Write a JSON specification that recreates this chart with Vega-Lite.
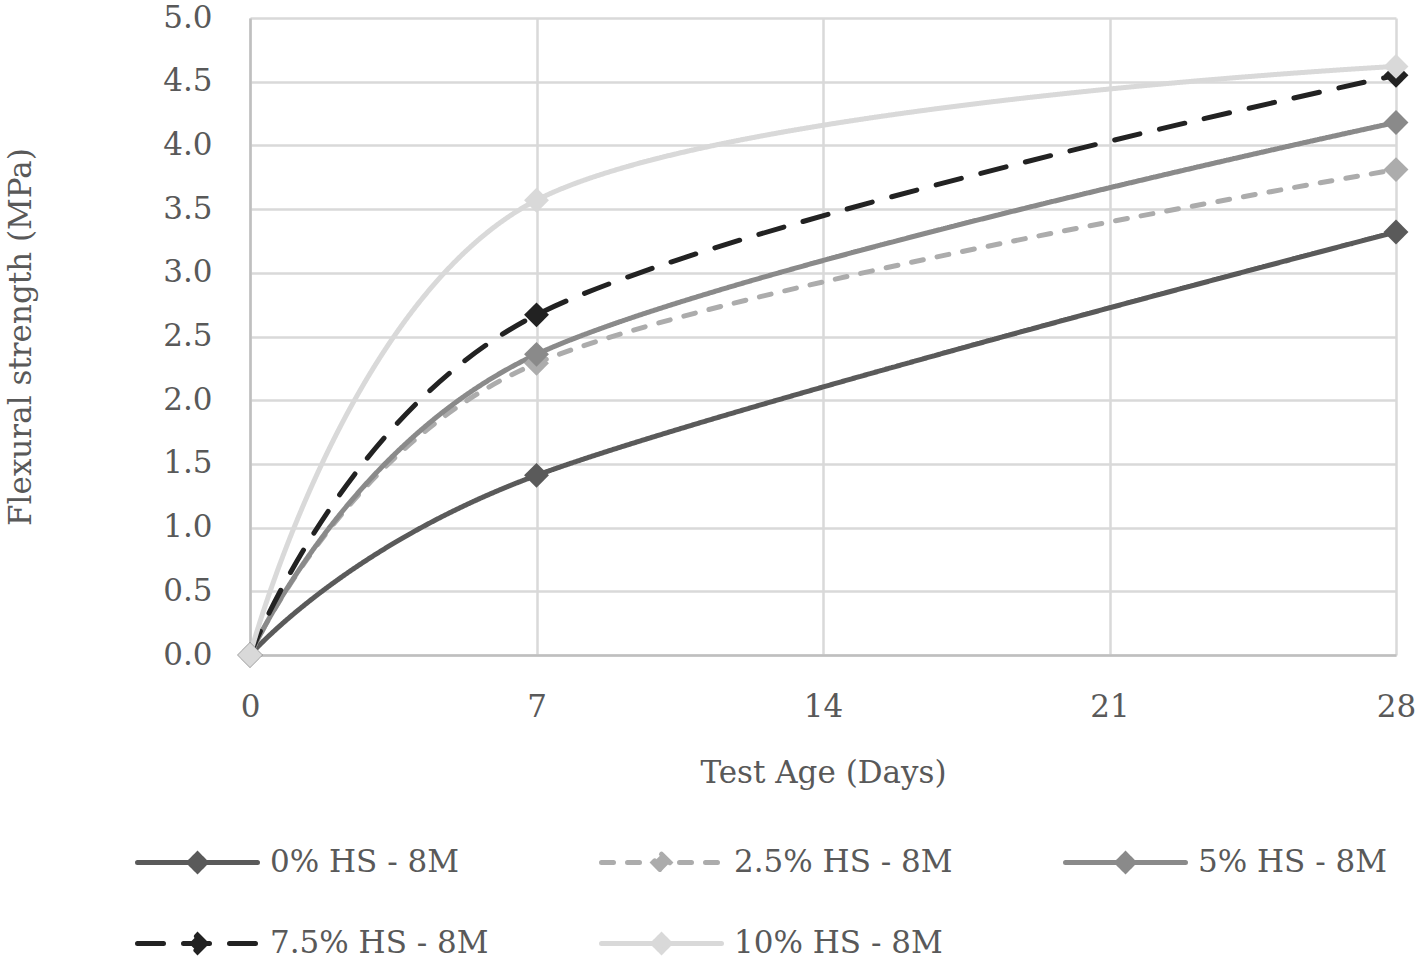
{
  "$schema": "https://vega.github.io/schema/vega-lite/v6.json",
  "width": 1146,
  "height": 637,
  "autosize": {"type": "none"},
  "padding": {"left": 250, "top": 18, "right": 21, "bottom": 309},
  "background": "white",
  "config": {"font": "DejaVu Serif", "view": {"stroke": null}},
  "data": {"values": [
    {"series": "0% HS - 8M", "day": 0, "strength": 0},
    {"series": "0% HS - 8M", "day": 7, "strength": 1.41},
    {"series": "0% HS - 8M", "day": 28, "strength": 3.32},
    {"series": "2.5% HS - 8M", "day": 0, "strength": 0},
    {"series": "2.5% HS - 8M", "day": 7, "strength": 2.29},
    {"series": "2.5% HS - 8M", "day": 28, "strength": 3.81},
    {"series": "5% HS - 8M", "day": 0, "strength": 0},
    {"series": "5% HS - 8M", "day": 7, "strength": 2.36},
    {"series": "5% HS - 8M", "day": 28, "strength": 4.18},
    {"series": "7.5% HS - 8M", "day": 0, "strength": 0},
    {"series": "7.5% HS - 8M", "day": 7, "strength": 2.67},
    {"series": "7.5% HS - 8M", "day": 28, "strength": 4.55},
    {"series": "10% HS - 8M", "day": 0, "strength": 0},
    {"series": "10% HS - 8M", "day": 7, "strength": 3.57},
    {"series": "10% HS - 8M", "day": 28, "strength": 4.62}
  ]},
  "encoding": {
    "x": {
      "field": "day", "type": "quantitative",
      "scale": {"domain": [0, 28], "nice": false, "zero": false},
      "axis": {
        "values": [0, 7, 14, 21, 28],
        "title": "Test Age (Days)",
        "titleFontSize": 31, "titleFontWeight": "normal", "titleColor": "#595959", "titlePadding": 36,
        "labelFontSize": 31, "labelColor": "#595959", "labelPadding": 37, "labelFlush": false,
        "ticks": false, "tickSize": 0,
        "domainColor": "#bfbfbf", "domainWidth": 2.5,
        "gridColor": "#d9d9d9", "gridWidth": 2.5
      }
    },
    "y": {
      "field": "strength", "type": "quantitative",
      "scale": {"domain": [0, 5], "nice": false},
      "axis": {
        "values": [0, 0.5, 1, 1.5, 2, 2.5, 3, 3.5, 4, 4.5, 5],
        "format": ".1f",
        "title": "Flexural strength (MPa)",
        "titleFontSize": 31, "titleFontWeight": "normal", "titleColor": "#595959", "titlePadding": 125,
        "labelFontSize": 31, "labelColor": "#595959", "labelPadding": 38,
        "ticks": false, "tickSize": 0,
        "domainColor": "#bfbfbf", "domainWidth": 2.5,
        "gridColor": "#d9d9d9", "gridWidth": 2.5
      }
    },
    "color": {
      "field": "series", "type": "nominal",
      "scale": {
        "domain": ["0% HS - 8M", "2.5% HS - 8M", "5% HS - 8M", "7.5% HS - 8M", "10% HS - 8M"],
        "range": ["#5a5a5a", "#acacac", "#8a8a8a", "#222222", "#d9d9d9"]
      },
      "legend": {
        "orient": "none",
        "legendX": -115,
        "legendY": 782,
        "title": null,
        "direction": "horizontal",
        "columns": 3,
        "gridAlign": "all",
        "columnPadding": 102,
        "rowPadding": -14,
        "symbolType": "M-1,0L1,0M0,-0.14L0.14,0L0,0.14L-0.14,0Z",
        "symbolSize": 14400,
        "symbolStrokeWidth": 5,
        "labelFontSize": 31,
        "labelColor": "#595959",
        "labelOffset": 10,
        "labelLimit": 400,
        "encode": {"symbols": {"update": {"fill": {"scale": "color", "field": "value"}, "strokeCap": {"value": "round"}, "opacity": {"value": 1}}}}
      }
    }
  },
  "layer": [
    {
      "mark": {"type": "line", "interpolate": "cardinal", "strokeWidth": 5, "strokeCap": "round"},
      "encoding": {
        "strokeDash": {
          "field": "series", "type": "nominal",
          "scale": {
            "domain": ["0% HS - 8M", "2.5% HS - 8M", "5% HS - 8M", "7.5% HS - 8M", "10% HS - 8M"],
            "range": [[1, 0], [12, 14], [1, 0], [26, 20], [1, 0]]
          },
          "legend": null
        }
      }
    },
    {
      "mark": {"type": "point", "shape": "diamond", "filled": true, "size": 620, "opacity": 1}
    }
  ]
}
